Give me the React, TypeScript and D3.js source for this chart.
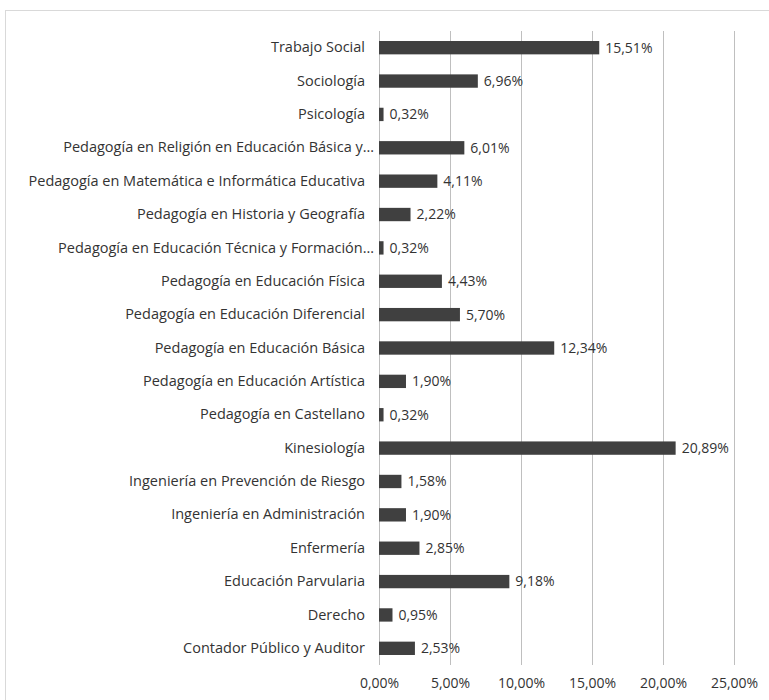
import React, { useEffect, useRef } from "react";
import * as d3 from "d3";

const categories = [
  "Trabajo Social",
  "Sociología",
  "Psicología",
  "Pedagogía en Religión en Educación Básica y…",
  "Pedagogía en Matemática e Informática Educativa",
  "Pedagogía en Historia y Geografía",
  "Pedagogía en Educación Técnica y Formación…",
  "Pedagogía en Educación Física",
  "Pedagogía en Educación Diferencial",
  "Pedagogía en Educación Básica",
  "Pedagogía en Educación Artística",
  "Pedagogía en Castellano",
  "Kinesiología",
  "Ingeniería en Prevención de Riesgo",
  "Ingeniería en Administración",
  "Enfermería",
  "Educación Parvularia",
  "Derecho",
  "Contador Público y Auditor",
];
const values = [15.51, 6.96, 0.32, 6.01, 4.11, 2.22, 0.32, 4.43, 5.7, 12.34, 1.9, 0.32, 20.89, 1.58, 1.9, 2.85, 9.18, 0.95, 2.53];
const ticks = [0, 5, 10, 15, 20, 25];

const W = 769, H = 700;
const font = "'Open Sans', sans-serif";
const fmt = (v: number) => v.toFixed(2).replace(".", ",") + "%";

export default function App() {
  const ref = useRef<SVGSVGElement>(null);
  useEffect(() => {
    const svg = d3.select(ref.current);
    svg.selectAll("*").remove();

    const x = d3.scaleLinear().domain([0, 25]).range([379, 734]);
    const y = d3.scaleBand().domain(categories).range([31, 665]).paddingInner(0.6).paddingOuter(0.3);

    svg.append("rect")
      .attr("x", 5.5).attr("y", 10.5).attr("width", W).attr("height", H)
      .attr("fill", "white").attr("stroke", "#d9d9d9");

    // gridlines
    svg.append("g").selectAll("line").data(ticks).enter().append("line")
      .attr("x1", d => Math.round(x(d)) + 0.5).attr("x2", d => Math.round(x(d)) + 0.5)
      .attr("y1", 31).attr("y2", 665)
      .attr("stroke", "#bfbfbf").attr("stroke-width", 1);

    // x axis labels
    const xAxis = d3.axisBottom(x).tickValues(ticks).tickSize(0).tickPadding(0)
      .tickFormat(d => fmt(+d));
    const gx = svg.append("g").attr("transform", "translate(0,680)").call(xAxis);
    gx.select(".domain").remove();
    gx.selectAll("text").attr("font-family", font).attr("font-size", 14).attr("fill", "#333").attr("dy", "0.6em");

    // y axis labels
    const yAxis = d3.axisLeft(y).tickSize(0).tickPadding(0);
    const gy = svg.append("g").attr("transform", "translate(365,0)").call(yAxis);
    gy.select(".domain").remove();
    gy.selectAll("text").attr("font-family", font).attr("font-size", 14.5).attr("fill", "#333")
      .attr("x", d => (String(d).endsWith("…") ? 9 : 0));

    // bars
    svg.append("g").selectAll("rect").data(values).enter().append("rect")
      .attr("x", x(0))
      .attr("y", (d, i) => y(categories[i])!)
      .attr("width", d => x(d) - x(0))
      .attr("height", y.bandwidth())
      .attr("fill", "#404040");

    // value labels
    svg.append("g").selectAll("text").data(values).enter().append("text")
      .attr("x", d => x(d) + 6)
      .attr("y", (d, i) => y(categories[i])! + y.bandwidth() / 2)
      .attr("dy", "0.35em")
      .attr("font-family", font).attr("font-size", 14).attr("fill", "#333")
      .text(d => fmt(d));
  }, []);
  return <svg ref={ref} width={W} height={H} style={{ position: "absolute", left: 0, top: 0, background: "white" }} />;
}
